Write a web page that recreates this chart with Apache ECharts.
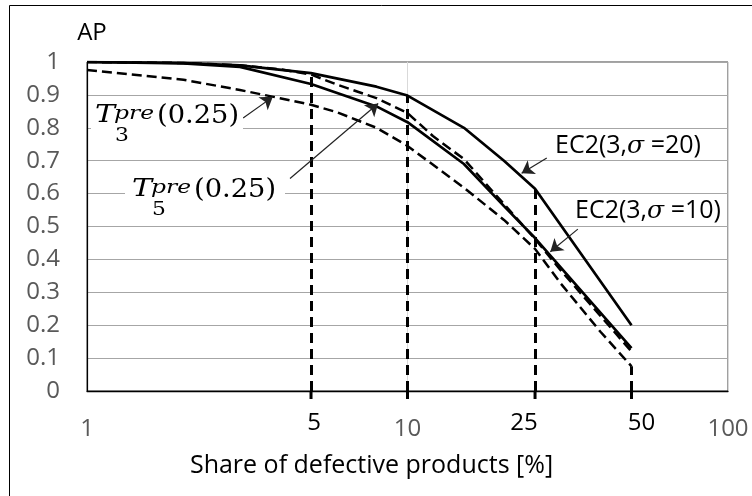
<!DOCTYPE html>
<html>
<head>
<meta charset="utf-8">
<script src="https://cdn.jsdelivr.net/npm/echarts@6/dist/echarts.min.js"></script>
<style>
  html, body { margin: 0; padding: 0; background: #fff; }
  #chart { width: 752px; height: 496px; }
</style>
</head>
<body>
<div id="chart"></div>
<script>
// Acceptance probability (AP) against the share of defective products (log scale)
const sigma20X  = [1, 2, 3, 5, 8, 10, 15, 20, 25, 50];
const sigma20AP = [1.000, 0.997, 0.990, 0.966, 0.925, 0.898, 0.800, 0.700, 0.615, 0.200];

const sigma10X  = [1, 2, 3, 5, 8, 10, 15, 20, 25, 50];
const sigma10AP = [1.000, 0.996, 0.985, 0.933, 0.865, 0.817, 0.690, 0.562, 0.465, 0.130];

const t5X  = [1, 2, 3, 4, 5, 6, 8, 10, 12, 15, 20, 25, 30, 40, 50];
const t5AP = [1.000, 0.997, 0.990, 0.978, 0.962, 0.932, 0.890, 0.845, 0.775, 0.705, 0.568, 0.462, 0.368, 0.228, 0.120];

const t3X  = [1, 2, 3, 4, 5, 6, 8, 10, 15, 20, 25, 30, 40, 50];
const t3AP = [0.976, 0.946, 0.915, 0.890, 0.870, 0.848, 0.800, 0.745, 0.618, 0.520, 0.432, 0.328, 0.180, 0.075];

// vertical reference lines down to the axis
const dropX  = [5, 10, 25, 50];
const dropAP = [0.963, 0.898, 0.615, 0.075];

// extra axis labels under the reference lines
const markedLabels = [5, 25, 50];

const pairs = (xs, ys) => xs.map((x, i) => [x, ys[i]]);

const SANS = '"Open Sans", "Noto Sans", sans-serif';
const SERIF = '"DejaVu Serif", "Liberation Serif", serif';

// pointer arrows from the curve labels, in data coordinates
const pointers = [
  { from: [3.07, 0.83],  to: [3.8, 0.894] },
  { from: [4.3, 0.646],  to: [8.1, 0.874] },
  { from: [27.2, 0.708], to: [22.7, 0.662] },
  { from: [34.0, 0.492], to: [27.9, 0.423] }
];

const chart = echarts.init(document.getElementById('chart'));

const solid = { color: '#000', width: 2.7 };
const dashed = { color: '#000', width: 2.5, type: [10, 5] };

chart.setOption({
  animation: false,
  backgroundColor: '#fff',
  grid: {
    left: 87, right: 24, top: 62, bottom: 105,
    show: true, borderColor: '#404040', borderWidth: 1,
    containLabel: false, outerBoundsMode: 'none'
  },
  xAxis: {
    type: 'log', logBase: 10, min: 1, max: 100,
    name: 'Share of defective products [%]',
    nameLocation: 'middle', nameGap: 62,
    nameTextStyle: { color: '#000', fontSize: 25, fontFamily: SANS, padding: [0, 72, 0, 0] },
    axisLine: { show: true, lineStyle: { color: '#000', width: 1.3 } },
    axisTick: { show: false },
    minorTick: { show: false },
    axisLabel: { color: '#595959', fontSize: 24, fontFamily: SANS, margin: 26 },
    splitLine: { show: true, lineStyle: { color: '#d9d9d9', width: 1 } }
  },
  yAxis: {
    type: 'value', min: 0, max: 1, interval: 0.1,
    name: 'AP', nameLocation: 'end', nameGap: 17,
    nameTextStyle: { color: '#000', fontSize: 24, fontFamily: SANS, padding: [0, 0, 0, 10] },
    axisLine: { show: true, lineStyle: { color: '#000', width: 1.2 } },
    axisTick: { show: false },
    axisLabel: { color: '#595959', fontSize: 24, fontFamily: SANS, margin: 27 },
    splitLine: { show: true, lineStyle: { color: '#a6a6a6', width: 1 } }
  },
  series: [
    { name: 'EC2(3,σ=20)', type: 'line', data: pairs(sigma20X, sigma20AP), showSymbol: false, lineStyle: solid, z: 4 },
    { name: 'EC2(3,σ=10)', type: 'line', data: pairs(sigma10X, sigma10AP), showSymbol: false, lineStyle: solid, z: 4 },
    { name: 'T5pre(0.25)', type: 'line', data: pairs(t5X, t5AP), showSymbol: false, lineStyle: dashed, z: 4 },
    { name: 'T3pre(0.25)', type: 'line', data: pairs(t3X, t3AP), showSymbol: false, lineStyle: dashed, z: 4 },
    {
      name: 'drop', type: 'line', data: [], z: 3,
      markLine: {
        silent: true, symbol: ['none', 'none'], label: { show: false },
        lineStyle: { color: '#000', width: 3, type: [10, 6] },
        emphasis: { disabled: true },
        data: dropX.map((x, i) => [{ coord: [x, 0] }, { coord: [x, dropAP[i]] }])
      }
    },
    {
      name: 'pointers', type: 'line', data: [], z: 5,
      markLine: {
        silent: true, symbol: ['none', 'arrow'], symbolSize: 12, label: { show: false },
        lineStyle: { color: '#222', width: 1.2, type: 'solid' },
        emphasis: { disabled: true },
        data: pointers.map(p => [{ coord: p.from }, { coord: p.to }])
      }
    }
  ]
});

// one piece of text placed by its left edge and alphabetic baseline, optionally widened
function piece(str, left, baseline, size, italic, widen) {
  return {
    type: 'text', x: left, y: baseline - 0.33 * size, z: 20, silent: true,
    scaleX: widen || 1,
    style: {
      text: str, fill: '#000',
      font: (italic ? 'italic ' : '') + size + 'px ' + SERIF,
      align: 'left', verticalAlign: 'middle'
    }
  };
}

// T with stacked "pre" superscript and index subscript, followed by (0.25)
function mathLabel(left, baseline, sub) {
  return [
    piece('T', left, baseline, 25, true, 1.2),
    piece('pre', left + 19, baseline - 4, 18, true, 1.3),
    piece(sub, left + 20, baseline + 18, 19, false, 1.15),
    piece('(0.25)', left + 62, baseline + 1, 26, false, 1.05)
  ];
}

const base = chart.convertToPixel({ gridIndex: 0 }, [1, 0]);
const axisY = base[1];

const ecRich = {
  a: { fontSize: 25, fontFamily: SANS, color: '#000' },
  s: { fontSize: 25, fontStyle: 'italic', fontFamily: SERIF, color: '#000' }
};

const graphics = [
  // outer frame of the figure
  { type: 'rect', silent: true, z: 0,
    shape: { x: 9.5, y: 5.5, width: 800, height: 600 },
    style: { fill: 'none', stroke: '#000', lineWidth: 1 } },
  // label backgrounds
  { type: 'rect', silent: true, z: 15, shape: { x: 91, y: 101, width: 152, height: 44 }, style: { fill: '#fff' } },
  { type: 'rect', silent: true, z: 15, shape: { x: 125, y: 168, width: 160, height: 48 }, style: { fill: '#fff' } },
  ...mathLabel(95, 124, '3'),
  ...mathLabel(132, 198, '5'),
  { type: 'text', x: 555, y: 146, z: 20, silent: true,
    style: { text: '{a|EC2(3,}{s|σ}{a| =20)}', verticalAlign: 'middle', rich: ecRich } },
  { type: 'text', x: 575, y: 211, z: 20, silent: true,
    style: { text: '{a|EC2(3,}{s|σ}{a| =10)}', verticalAlign: 'middle', rich: ecRich } }
];

// short ticks continuing the reference lines below the axis
dropX.forEach(x => {
  const p = chart.convertToPixel({ gridIndex: 0 }, [x, 0]);
  graphics.push({ type: 'line', silent: true, z: 5,
    shape: { x1: p[0], y1: axisY, x2: p[0], y2: axisY + 8 },
    style: { stroke: '#000', lineWidth: 3 } });
});

// black labels under the reference lines
const labelShift = { 5: 3, 25: -11, 50: 10 };
markedLabels.forEach(x => {
  const p = chart.convertToPixel({ gridIndex: 0 }, [x, 0]);
  graphics.push({ type: 'text', silent: true, z: 5, x: p[0] + labelShift[x], y: axisY + 32,
    style: { text: String(x), fill: '#000', font: '24px ' + SANS, align: 'center', verticalAlign: 'middle' } });
});

chart.setOption({ graphic: graphics });
</script>
</body>
</html>
